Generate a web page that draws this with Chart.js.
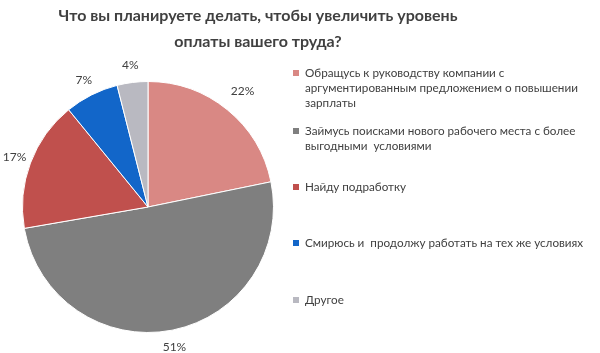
<!DOCTYPE html>
<html>
<head>
<meta charset="utf-8">
<script src="https://cdn.jsdelivr.net/npm/chart.js@4"></script>
<style>
  html, body { margin: 0; padding: 0; background: #fff; }
  #wrap { width: 600px; height: 353px; position: relative; }
</style>
</head>
<body>
<div id="wrap"><canvas id="pie"></canvas></div>
<script>
// Survey: how people plan to raise their pay
const titleLines = ['Что вы планируете делать, чтобы увеличить уровень', 'оплаты вашего труда?'];
const categories = [
    ['Обращусь к руководству компании с', 'аргументированным предложением о повышении', 'зарплаты'],
    ['Займусь поисками нового рабочего места с более', 'выгодными  условиями'],
    ['Найду подработку'],
    ['Смирюсь и  продолжу работать на тех же условиях'],
    ['Другое']
];
const shares = [22, 51, 17, 7, 4];
const sliceColors = ['#d98884', '#7f7f7f', '#c0504d', '#1266c9', '#b9b9c1'];
const legendRows = [73, 131, 187, 243, 300];

const textColor = '#404040';

// title + legend drawn by hand so line breaks match the original
const decorPlugin = {
    id: 'decor',
    afterDraw(chart) {
        const ctx = chart.ctx;
        ctx.save();
        ctx.fillStyle = textColor;
        ctx.textAlign = 'center';
        ctx.textBaseline = 'middle';
        ctx.font = 'bold 16px Lato';
        ctx.fillText(titleLines[0], 258, 16);
        ctx.fillText(titleLines[1], 258, 42);

        ctx.font = '11.7px Lato';
        ctx.textAlign = 'left';
        categories.forEach((lines, i) => {
            const y0 = legendRows[i];
            ctx.fillStyle = sliceColors[i];
            ctx.fillRect(293, y0 - 3, 6, 6);
            ctx.fillStyle = textColor;
            lines.forEach((ln, k) => ctx.fillText(ln, 305, y0 + k * 15));
        });

        // percent labels outside each slice
        const meta = chart.getDatasetMeta(0);
        ctx.font = '12px Lato';
        ctx.textAlign = 'center';
        meta.data.forEach((arc, i) => {
            const p = arc.getProps(['x', 'y', 'startAngle', 'endAngle', 'outerRadius'], true);
            const mid = (p.startAngle + p.endAngle) / 2;
            const r = p.outerRadius + (i === 0 ? 24 : 17);
            ctx.fillText(shares[i] + '%', p.x + Math.cos(mid) * r, p.y + Math.sin(mid) * r);
        });
        ctx.restore();
    }
};

new Chart(document.getElementById('pie'), {
    type: 'pie',
    data: {
        labels: categories,
        datasets: [{
            data: shares,
            backgroundColor: sliceColors,
            borderColor: '#ffffff',
            borderWidth: 1
        }]
    },
    options: {
        responsive: true,
        maintainAspectRatio: false,
        animation: false,
        layout: { padding: { left: 22, right: 326, top: 81, bottom: 20 } },
        plugins: {
            legend: { display: false },
            title: { display: false },
            tooltip: { enabled: false }
        }
    },
    plugins: [decorPlugin]
});
</script>
</body>
</html>
